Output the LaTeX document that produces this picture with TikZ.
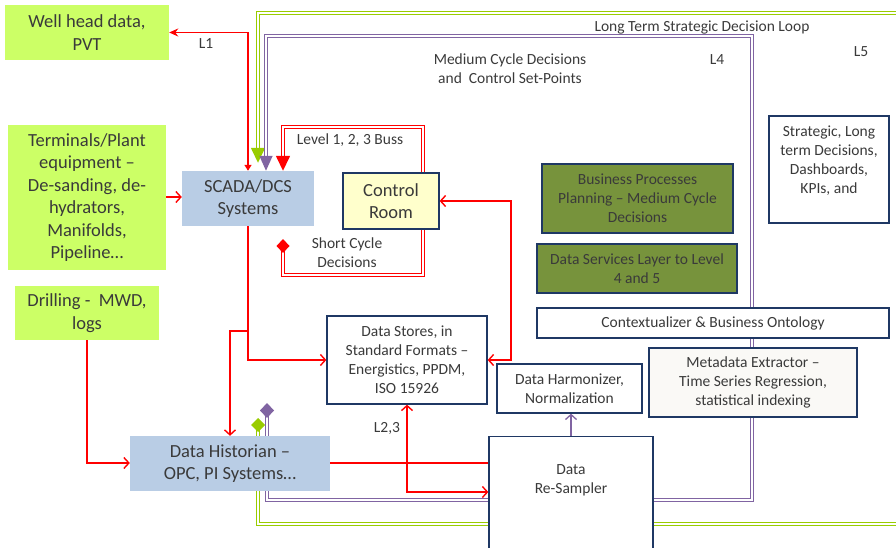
\documentclass[tikz,border=0pt]{standalone}
\usepackage{fontspec}
\setmainfont{Carlito}
\usetikzlibrary{arrows.meta}

\definecolor{srcgreen}{HTML}{CCFF66}
\definecolor{sysblue}{HTML}{B9CDE5}
\definecolor{roomyellow}{HTML}{FFFFCC}
\definecolor{bizolive}{HTML}{77933C}
\definecolor{metagrey}{HTML}{FAF9F6}
\definecolor{navy}{HTML}{1F3864}
\definecolor{txtgrey}{HTML}{3A3A3A}
\definecolor{loopgreen}{HTML}{99CC00}
\definecolor{looppurple}{HTML}{8064A2}
\definecolor{busred}{HTML}{FF0000}

\pgfdeclarelayer{back}
\pgfsetlayers{back,main}

\tikzset{
  bigfont/.style={font=\fontsize{18.5}{22.5}\selectfont},
  smallfont/.style={font=\fontsize{15.5}{19}\selectfont},
  box/.style={inner sep=0pt, align=center, text=txtgrey, smallfont},
  src/.style={box, fill=srcgreen, bigfont},
  sys/.style={box, fill=sysblue, bigfont},
  stage/.style={box, draw=navy, line width=1.3pt, fill=white},
  oliv/.style={stage, fill=bizolive},
  lbl/.style={inner sep=0pt, align=center, text=txtgrey, smallfont},
  rl/.style={draw=busred, line width=1.4pt},
  openV/.tip={Straight Barb[length=5pt,width=11pt]},
  bus/.style={busred, line width=1.5pt, double=white, double distance=1.5pt},
  gloop/.style={loopgreen, line width=1.5pt, double=white, double distance=1.5pt},
  ploop/.style={looppurple, line width=1.5pt, double=white, double distance=1.5pt}
}

\begin{document}
\begin{tikzpicture}[x=1pt,y=-1pt]
\useasboundingbox (0,0) rectangle (896,548);

% field sources
\node[src, minimum width=164pt, minimum height=55pt] (well) at (87,32.5) {Well head data,\\PVT};
\node[src, minimum width=158pt, minimum height=145pt] (term) at (87,197.5) {Terminals/Plant\\equipment –\\De-sanding, de-\\hydrators,\\Manifolds,\\Pipeline…};
\node[src, minimum width=144pt, minimum height=54pt] (drill) at (87,313) {Drilling -\ \ MWD,\\logs};

% level 1-3
\node[sys, minimum width=132pt, minimum height=55pt] (scada) at (248,198.5) {SCADA/DCS\\Systems};
\node[sys, minimum width=200pt, minimum height=55pt] (hist) at (230,463.5) {Data Historian –\\OPC, PI Systems…};
\node[stage, bigfont, fill=roomyellow, minimum width=96pt, minimum height=56pt] (ctrl) at (391,201) {Control\\Room};
\node[stage, minimum width=160pt, minimum height=88pt] (store) at (407,360) {Data Stores, in\\Standard Formats –\\Energistics, PPDM,\\ISO 15926};
\node[stage, minimum width=145pt, minimum height=49pt] (harm) at (569.5,388.5) {Data Harmonizer,\\Normalization};
\node[stage, minimum width=164pt, minimum height=114pt, anchor=north] (resamp) at (571,436) {};
\node[lbl] (resampTxt) at (571,480) {Data\\Re-Sampler};

% level 4-5
\node[stage, minimum width=352pt, minimum height=30pt] (ctx) at (713,323) {Contextualizer \& Business Ontology};
\node[stage, fill=metagrey, minimum width=208pt, minimum height=69pt] (meta) at (753,382.5) {Metadata Extractor –\\Time Series Regression,\\statistical indexing};
\node[oliv, minimum width=191pt, minimum height=69pt] (bpp) at (637.5,198.5) {Business Processes\\Planning – Medium Cycle\\Decisions};
\node[oliv, minimum width=200pt, minimum height=49pt] (dsl) at (637,268.5) {Data Services Layer to Level\\4 and 5};
\node[stage, minimum width=120pt, minimum height=107pt] (strat) at (829,169.5) {Strategic, Long\\term Decisions,\\Dashboards,\\KPIs, and\\\mbox{}};

% labels
\node[lbl] (l1) at (206,44) {L1};
\node[lbl] (busLbl) at (350,140) {Level 1, 2, 3 Buss};
\node[lbl] (shortLbl) at (347,253) {Short Cycle\\Decisions};
\node[lbl] (medLbl) at (510,69) {Medium Cycle Decisions\\and\ \ Control Set-Points};
\node[lbl] (l4) at (717,60) {L4};
\node[lbl] (longLbl) at (702,28) {Long Term Strategic Decision Loop};
\node[lbl] (l5) at (861,52) {L5};
\node[lbl] (l23) at (387,428) {L2,3};

\begin{pgfonlayer}{back}
% red data lines
\draw[rl, {Stealth[length=9pt,width=8pt]}-{Triangle[length=6pt,width=7pt]}] (well.east) -| (scada.north);
\draw[rl, -openV] ([yshift=0.5pt]term.east) -- ([yshift=0.5pt]term.east -| scada.west);
\coordinate (tap) at (248,331);
\draw[rl, -openV] (scada.south) |- (store.west);
\draw[rl, -openV] (tap) -| (hist.north);
\draw[rl, -openV] (drill.south) |- ([yshift=0.5pt]hist.west);
\draw[rl] ([yshift=0.5pt]hist.east) -- ([yshift=0.5pt]hist.east -| resamp.west);
\draw[rl, openV-openV] (store.south) |- (resamp.west |- 0,492);
\draw[rl, openV-openV] (ctrl.east) -| (511,280) |- (store.east);

% level 1,2,3 bus
\coordinate (shortEnd) at (283,239);
\draw[bus, {Diamond[length=14pt,width=13pt]}-{Triangle[length=15pt,width=14pt]}] (shortEnd) -- (283,275) -| (423,127) -| ([xshift=35pt]scada.north);

% long term loop
\coordinate (gStart) at (258,418);
\draw[gloop, {Diamond[length=14pt,width=14pt]}-] (gStart) |- (896,524);
\draw[gloop, -{Triangle[length=15pt,width=14pt]}] (896,13) -| ([xshift=10pt,yshift=8pt]scada.north);

% medium cycle loop
\coordinate (pStart) at (267,403);
\draw[ploop, {Diamond[length=15pt,width=14pt]}-{Triangle[length=15pt,width=13pt]}] (pStart) |- (752,500) -- (752,36) -| ([xshift=18pt]scada.north);
\draw[looppurple, line width=1.3pt, -openV] (resamp.north) -- (resamp.north |- harm.south);
\end{pgfonlayer}

\end{tikzpicture}
\end{document}
